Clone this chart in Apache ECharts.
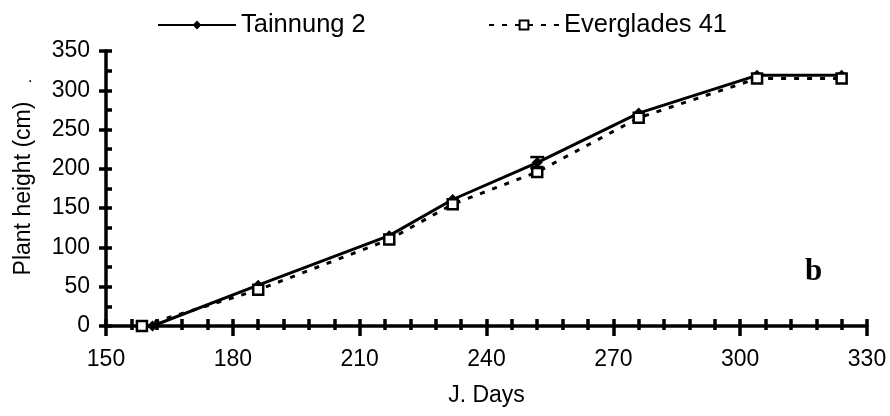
<!DOCTYPE html>
<html>
<head>
<meta charset="utf-8">
<script src="https://cdn.jsdelivr.net/npm/echarts@6/dist/echarts.min.js"></script>
<style>
  html, body { margin: 0; padding: 0; background: #fff; }
  #chart { width: 890px; height: 416px; }
</style>
</head>
<body>
<div id="chart"></div>
<script>
// data
var daysTainnung = [161, 186, 217, 232, 252, 276, 304, 324];
var heightTainnung = [0, 52, 115, 161, 208, 271, 319, 319];
var daysEverglades = [158.5, 186, 217, 232, 252, 276, 304, 324];
var heightEverglades = [0, 46, 110, 155, 196, 265, 315, 315];
// error bars (day, low, high)
var errTainnung = [[252, 201, 215]];

function pairs(xs, ys) {
  var out = [];
  for (var i = 0; i < xs.length; i++) out.push([xs[i], ys[i]]);
  return out;
}

var myChart = echarts.init(document.getElementById('chart'));

var font = 'Liberation Sans, Arial, sans-serif';
var blackLine = { color: '#000', width: 3.5 };

var option = {
  animation: false,
  textStyle: { fontFamily: font, color: '#000' },
  grid: { left: 106, right: 23, top: 51, bottom: 90, containLabel: false, outerBoundsMode: 'none' },
  legend: [
    {
      data: ['Tainnung 2'],
      left: 152, top: 7,
      itemWidth: 78, itemHeight: 11,
      textStyle: { fontSize: 25.5, color: '#000', fontFamily: font }
    },
    {
      data: ['Everglades 41'],
      left: 483, top: 7,
      itemWidth: 70, itemHeight: 11,
      textStyle: { fontSize: 25.5, color: '#000', fontFamily: font }
    }
  ],
  xAxis: [
    {
      type: 'value',
      min: 150, max: 330, interval: 30,
      name: 'J. Days',
      nameLocation: 'middle',
      nameGap: 58,
      nameTextStyle: { fontSize: 23, color: '#000' },
      axisLine: { lineStyle: blackLine },
      axisTick: { show: true, length: 10, lineStyle: { color: '#000', width: 3.5 } },
      minorTick: { show: true, splitNumber: 5, length: 4, lineStyle: { color: '#000', width: 3.5 } },
      axisLabel: { fontSize: 23, color: '#000', margin: 22 },
      splitLine: { show: false }
    },
    {
      // inner half of the crossing ticks
      type: 'value',
      position: 'bottom',
      min: 150, max: 330, interval: 30,
      axisLine: { show: false },
      axisTick: { show: true, inside: true, length: 7, lineStyle: { color: '#000', width: 3.5 } },
      minorTick: { show: true, splitNumber: 5, length: 7, lineStyle: { color: '#000', width: 3.5 } },
      axisLabel: { show: false },
      splitLine: { show: false }
    }
  ],
  yAxis: [
    {
      type: 'value',
      min: 0, max: 350, interval: 50,
      name: 'Plant height (cm)',
      nameLocation: 'middle',
      nameGap: 71,
      nameTextStyle: { fontSize: 23, color: '#000' },
      axisLine: { show: true, lineStyle: blackLine },
      axisTick: { show: true, length: 7, lineStyle: { color: '#000', width: 3.5 } },
      axisLabel: { fontSize: 23, color: '#000', margin: 16 },
      splitLine: { show: false }
    },
    {
      type: 'value',
      position: 'left',
      min: 0, max: 350, interval: 50,
      axisLine: { show: false },
      axisTick: { show: true, inside: true, length: 6, lineStyle: { color: '#000', width: 3.5 } },
      minorTick: { show: true, splitNumber: 2, length: 6, lineStyle: { color: '#000', width: 3.5 } },
      axisLabel: { show: false },
      splitLine: { show: false }
    }
  ],
  series: [
    {
      name: 'Everglades 41',
      type: 'line',
      data: pairs(daysEverglades, heightEverglades),
      symbol: 'rect',
      symbolSize: 10,
      lineStyle: { color: '#000', width: 3, type: [5, 8] },
      itemStyle: { color: '#fff', borderColor: '#000', borderWidth: 2.5 },
      z: 3
    },
    {
      name: 'Tainnung 2',
      type: 'line',
      data: pairs(daysTainnung, heightTainnung),
      symbol: 'diamond',
      symbolSize: 11,
      lineStyle: { color: '#000', width: 3 },
      itemStyle: { color: '#000' },
      z: 2
    },
    {
      type: 'custom',
      name: 'err',
      data: errTainnung,
      z: 4,
      renderItem: function (params, api) {
        var x = api.value(0);
        var lo = api.coord([x, api.value(1)]);
        var hi = api.coord([x, api.value(2)]);
        var w = 7;
        return {
          type: 'group',
          children: [
            { type: 'line', shape: { x1: lo[0], y1: lo[1], x2: hi[0], y2: hi[1] }, style: { stroke: '#000', lineWidth: 2.5 } },
            { type: 'line', shape: { x1: hi[0] - w, y1: hi[1], x2: hi[0] + w, y2: hi[1] }, style: { stroke: '#000', lineWidth: 2.5 } },
            { type: 'line', shape: { x1: lo[0] - w, y1: lo[1], x2: lo[0] + w, y2: lo[1] }, style: { stroke: '#000', lineWidth: 2.5 } }
          ]
        };
      }
    }
  ],
  graphic: [
    {
      type: 'text', left: 805, top: 256,
      style: { text: 'b', font: 'bold 31px "Liberation Serif", "Times New Roman", serif', fill: '#000' }
    },
    {
      type: 'text', left: 28, top: 70,
      style: { text: '.', font: '16px Liberation Sans, Arial, sans-serif', fill: '#000' }
    }
  ]
};

myChart.setOption(option);
window.addEventListener('resize', function () {
  myChart.resize();
});
</script>
</body>
</html>
